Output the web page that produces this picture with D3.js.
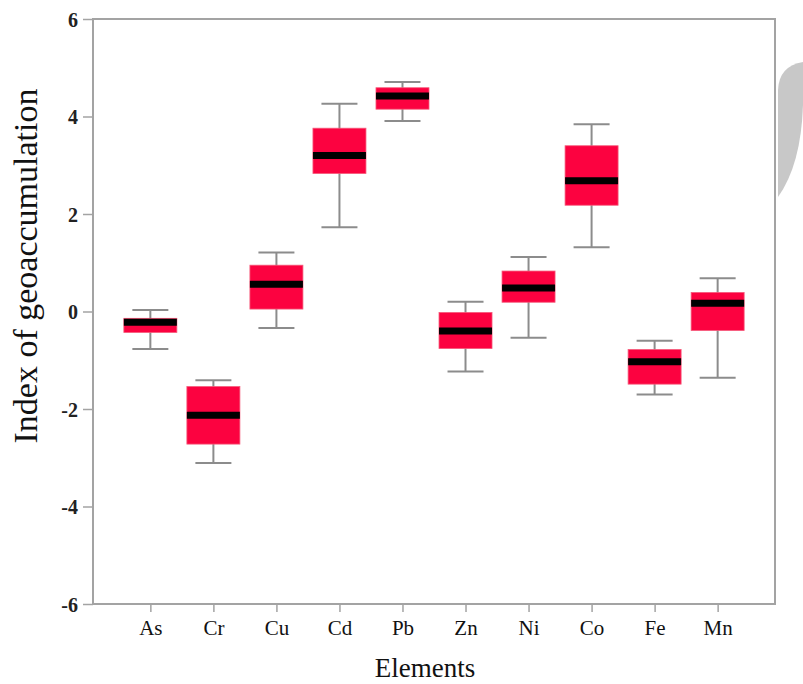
<!DOCTYPE html>
<html>
<head>
<meta charset="utf-8">
<script src="https://cdn.jsdelivr.net/npm/d3@7"></script>
<style>
  body { margin: 0; background: #fff; }
  text { font-family: "Liberation Serif", "Times New Roman", serif; }
</style>
</head>
<body>
<div id="chart"></div>
<script>
const width = 803;
const height = 684;

// values
const elements = ["As", "Cr", "Cu", "Cd", "Pb", "Zn", "Ni", "Co", "Fe", "Mn"];
const whiskerHigh = [0.03, -1.41, 1.21, 4.26, 4.71, 0.20, 1.12, 3.84, -0.60, 0.68];
const q3 = [-0.14, -1.54, 0.95, 3.76, 4.59, -0.02, 0.83, 3.40, -0.78, 0.39];
const median = [-0.22, -2.13, 0.56, 3.20, 4.42, -0.40, 0.48, 2.68, -1.03, 0.17];
const q1 = [-0.43, -2.72, 0.05, 2.83, 4.15, -0.76, 0.19, 2.18, -1.49, -0.39];
const whiskerLow = [-0.77, -3.11, -0.34, 1.73, 3.91, -1.23, -0.54, 1.32, -1.70, -1.36];
const yTicks = [-6, -4, -2, 0, 2, 4, 6];

const data = elements.map((e, i) => ({
  name: e, lo: whiskerLow[i], q1: q1[i], med: median[i], q3: q3[i], hi: whiskerHigh[i]
}));

const plotL = 93, plotR = 775, plotT = 19, plotB = 604;
const boxW = 53, capW = 36;
const frameColor = "#a3a3a3";

const svg = d3.select("#chart")
  .append("svg")
  .attr("width", width)
  .attr("height", height);

// watermark piece at the right edge
svg.append("path")
  .attr("d", "M778,90 Q779,66 803,62 L803,105 Q801,165 778,197 Z")
  .attr("fill", "#c8c8c8");

const x = d3.scalePoint()
  .domain(elements)
  .range([plotL, plotR])
  .padding(0.91);

const y = d3.scaleLinear()
  .domain([-6, 6])
  .range([plotB, plotT]);

// frame
svg.append("rect")
  .attr("x", plotL).attr("y", plotT)
  .attr("width", plotR - plotL).attr("height", plotB - plotT)
  .attr("fill", "#fff")
  .attr("stroke", frameColor)
  .attr("stroke-width", 2);

// y axis (plain hyphen for negatives, like the original)
const yAxis = svg.append("g")
  .attr("transform", `translate(${plotL},0)`)
  .call(d3.axisLeft(y).tickValues(yTicks).tickSize(10).tickPadding(5).tickFormat(d => String(d)));
yAxis.select(".domain").remove();
yAxis.selectAll("line").attr("stroke", frameColor).attr("stroke-width", 1.5);
yAxis.selectAll("text")
  .attr("fill", "#222")
  .style("font-size", "20px")
  .style("font-weight", "bold")
  .attr("dy", "0.35em");

// x axis
const xAxis = svg.append("g")
  .attr("transform", `translate(0,${plotB})`)
  .call(d3.axisBottom(x).tickSize(8).tickPadding(8));
xAxis.select(".domain").remove();
xAxis.selectAll("line").attr("stroke", frameColor).attr("stroke-width", 1.5);
xAxis.selectAll("text")
  .attr("fill", "#111")
  .style("font-size", "21px");

// boxes
const g = svg.selectAll(".box")
  .data(data)
  .enter().append("g")
  .attr("class", "box")
  .attr("transform", d => `translate(${x(d.name)},0)`);

g.append("line")
  .attr("x1", 0).attr("x2", 0)
  .attr("y1", d => y(d.hi)).attr("y2", d => y(d.lo))
  .attr("stroke", "#8c8c8c").attr("stroke-width", 2);

g.selectAll(".cap")
  .data(d => [d.hi, d.lo])
  .enter().append("line")
  .attr("x1", -capW / 2).attr("x2", capW / 2)
  .attr("y1", v => y(v)).attr("y2", v => y(v))
  .attr("stroke", "#8c8c8c").attr("stroke-width", 2);

g.append("rect")
  .attr("x", -boxW / 2)
  .attr("width", boxW)
  .attr("y", d => y(d.q3))
  .attr("height", d => y(d.q1) - y(d.q3))
  .attr("fill", "#fc0240")
  .attr("stroke", "#f55a7a")
  .attr("stroke-width", 0.8);

g.append("line")
  .attr("x1", -boxW / 2).attr("x2", boxW / 2)
  .attr("y1", d => y(d.med)).attr("y2", d => y(d.med))
  .attr("stroke", "#000").attr("stroke-width", 7);

// axis titles
svg.append("text")
  .attr("transform", "translate(37,266) rotate(-90)")
  .attr("text-anchor", "middle")
  .attr("fill", "#111")
  .style("font-size", "34px")
  .text("Index of geoaccumulation");

svg.append("text")
  .attr("x", 425)
  .attr("y", 677)
  .attr("text-anchor", "middle")
  .attr("fill", "#111")
  .style("font-size", "27px")
  .text("Elements");
</script>
</body>
</html>
